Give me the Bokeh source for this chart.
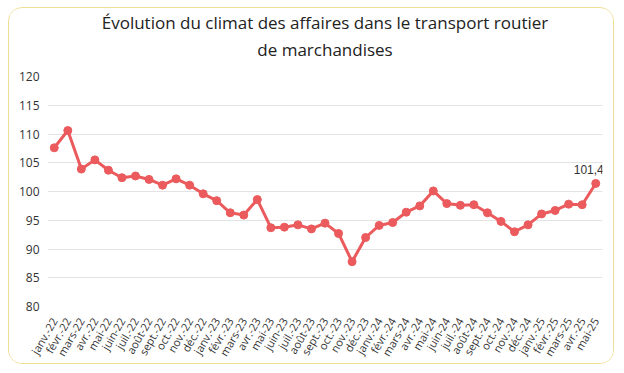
import math
from bokeh.plotting import figure
from bokeh.models import ColumnDataSource, Title, Label, Range1d
from bokeh.embed import file_html
from bokeh.resources import INLINE

months = ["janv.-22", "févr.-22", "mars-22", "avr.-22", "mai-22", "juin-22", "juil.-22", "août-22",
          "sept.-22", "oct.-22", "nov.-22", "déc.-22",
          "janv.-23", "févr.-23", "mars-23", "avr.-23", "mai-23", "juin-23", "juil.-23", "août-23",
          "sept.-23", "oct.-23", "nov.-23", "déc.-23",
          "janv.-24", "févr.-24", "mars-24", "avr.-24", "mai-24", "juin-24", "juil.-24", "août-24",
          "sept.-24", "oct.-24", "nov.-24", "déc.-24",
          "janv.-25", "févr.-25", "mars-25", "avr.-25", "mai-25"]
climat = [107.6, 110.6, 103.9, 105.5, 103.7, 102.4, 102.7, 102.1,
          101.1, 102.2, 101.1, 99.6,
          98.4, 96.3, 95.9, 98.6, 93.7, 93.8, 94.2, 93.5,
          94.5, 92.7, 87.8, 92.0,
          94.1, 94.6, 96.4, 97.5, 100.1, 97.9, 97.6, 97.7,
          96.3, 94.8, 93.0, 94.2,
          96.1, 96.7, 97.8, 97.7, 101.4]
y_ticks = [80, 85, 90, 95, 100, 105, 110, 115, 120]
last_label = "101,4"

FONT = "Open Sans"
RED = "#eb5a5c"

p = figure(x_range=months, y_range=Range1d(80, 120), width=606, height=357,
           output_backend="svg", toolbar_location=None,
           min_border_left=38, min_border_right=13, min_border_top=68, min_border_bottom=54,
           styles={"border": "1px solid #efdf96", "border-radius": "14px", "overflow": "hidden",
                   "margin-left": "8px", "margin-top": "7px"})
p.x_range.range_padding = 0
p.outline_line_color = None
p.background_fill_color = "white"
p.border_fill_color = "white"

p.add_layout(Title(text=" ", text_font=FONT, text_font_size="8px", standoff=0), "above")
p.add_layout(Title(text="de marchandises", align="center", text_font=FONT, text_font_size="17px",
                   text_font_style="normal", text_color="#222222", standoff=5), "above")
p.add_layout(Title(text="Évolution du climat des affaires dans le transport routier", align="center",
                   text_font=FONT, text_font_size="17px", text_font_style="normal",
                   text_color="#222222", standoff=0), "above")

src = ColumnDataSource(dict(x=months, y=climat))
p.line("x", "y", source=src, line_color=RED, line_width=3)
p.scatter("x", "y", source=src, size=8, fill_color=RED, line_color=RED)

# numeric position of the last factor on the categorical axis (factor centre)
last_x = months.index(months[-1]) + 0.5
p.add_layout(Label(x=last_x, y=climat[-1], text=last_label, text_align="center",
                   text_baseline="bottom", y_offset=9, x_offset=-7, text_font="Liberation Sans",
                   text_font_size="12px", text_color="#333333"))

p.yaxis.ticker = y_ticks
p.xaxis.major_label_orientation = math.radians(60)
for ax in (p.xaxis, p.yaxis):
    ax.axis_line_color = None
    ax.major_tick_line_color = None
    ax.minor_tick_line_color = None
    ax.major_tick_out = 0
    ax.major_tick_in = 0
    ax.major_label_text_font = FONT
    ax.major_label_text_font_size = "11px"
    ax.major_label_text_color = "#333333"
p.yaxis.major_label_text_font_size = "12px"
p.xaxis.major_label_standoff = 12
p.yaxis.major_label_standoff = 8
p.xgrid.grid_line_color = None
p.ygrid.grid_line_color = "#e3e3e3"
p.ygrid.grid_line_width = 1

open("out.html", "w").write(file_html(p, INLINE))
